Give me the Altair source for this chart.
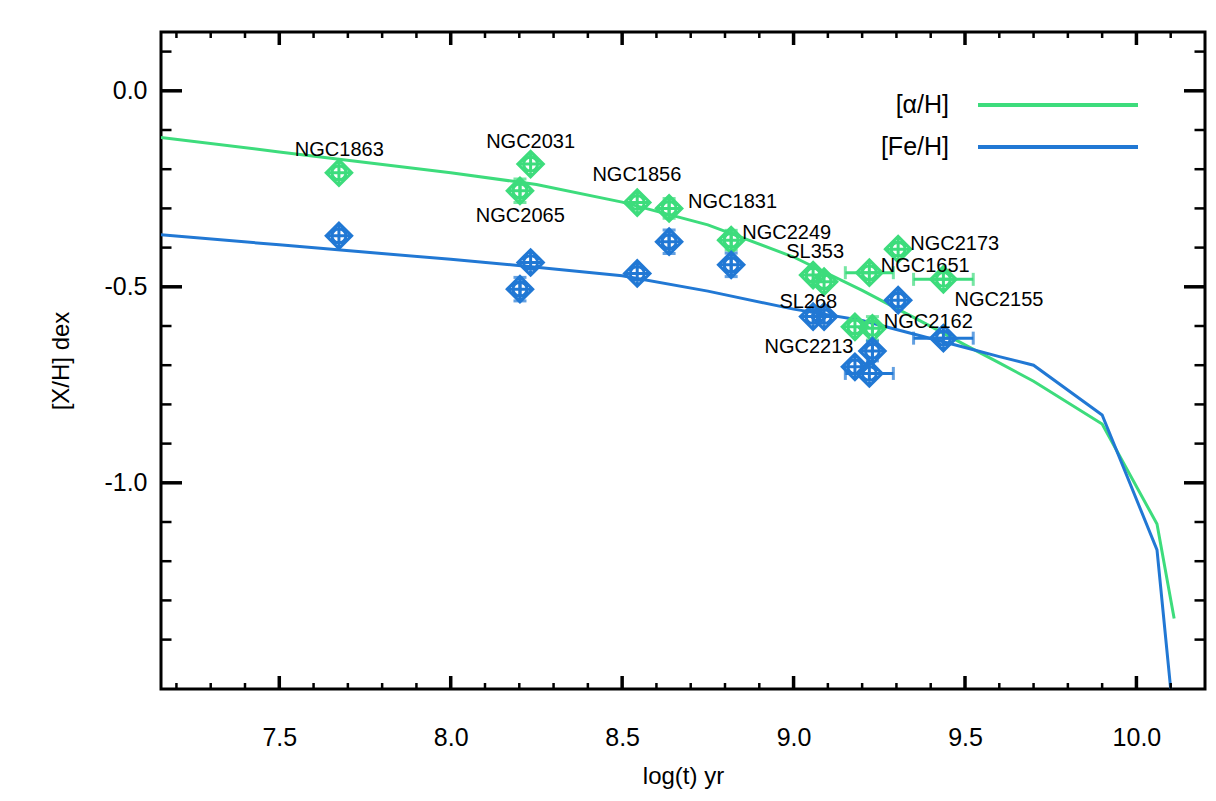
import altair as alt
import pandas as pd

# ---------------- data ----------------
clusters = ["NGC1863", "NGC2065", "NGC2031", "NGC1856", "NGC1831", "NGC2249",
            "SL353", "SL268", "NGC1651", "NGC2173", "NGC2155", "NGC2162", "NGC2213"]
log_age = [7.674, 8.202, 8.233, 8.544, 8.637, 8.818,
           9.057, 9.089, 9.221, 9.305, 9.437, 9.230, 9.179]
alpha_h = [-0.209, -0.255, -0.187, -0.285, -0.300, -0.381,
           -0.470, -0.487, -0.464, -0.404, -0.481, -0.606, -0.602]
fe_h = [-0.370, -0.506, -0.438, -0.466, -0.385, -0.444,
        -0.576, -0.576, -0.721, -0.534, -0.631, -0.664, -0.704]
age_err = [0, 0, 0, 0, 0, 0, 0, 0, 0.07, 0, 0.087, 0, 0]
alpha_err = [0, 0.03, 0, 0, 0.025, 0.025, 0, 0, 0, 0, 0, 0.03, 0]
fe_err = [0, 0.03, 0, 0, 0.03, 0.03, 0, 0, 0, 0, 0, 0.025, 0]

# label anchors (data units)
label_x = [7.675, 8.203, 8.233, 8.543, 8.822, 8.980,
           9.063, 9.043, 9.384, 9.470, 9.599, 9.393, 9.045]
label_y = [-0.152, -0.320, -0.131, -0.216, -0.284, -0.364,
           -0.411, -0.539, -0.448, -0.390, -0.533, -0.590, -0.654]

# chemical evolution model tracks
model_x = [7.155, 7.5, 8.0, 8.25, 8.5, 8.75, 9.0, 9.2, 9.4, 9.5, 9.6, 9.7, 9.9, 10.06, 10.11]
model_alpha = [-0.119, -0.156, -0.209, -0.239, -0.284, -0.342, -0.424, -0.509,
               -0.601, -0.648, -0.694, -0.741, -0.850, -1.105, -1.346]
model_fe = [-0.367, -0.393, -0.430, -0.450, -0.472, -0.511, -0.557, -0.586,
            -0.632, -0.655, -0.678, -0.700, -0.827, -1.171, -1.615]

series_names = ["[α/H]", "[Fe/H]"]
x_major = [7.5, 8.0, 8.5, 9.0, 9.5, 10.0]
y_major = [0.0, -0.5, -1.0]

# ---------------- styling ----------------
GREEN = "#3ddc7c"
BLUE = "#2178d4"
FONT = "Liberation Sans"
W, H = 1044, 657
XDOM = [7.155, 10.2]
YDOM = [-1.526, 0.15]

x_minor = [round(7.2 + 0.1 * i, 2) for i in range(30)]
x_minor = [v for v in x_minor if all(abs(v - m) > 1e-6 for m in x_major)]
y_minor = [round(0.1 - 0.1 * i, 2) for i in range(16)]
y_minor = [v for v in y_minor if all(abs(v - m) > 1e-6 for m in y_major)]

xs = alt.Scale(domain=XDOM, nice=False, zero=False)
ys = alt.Scale(domain=YDOM, nice=False, zero=False)

xaxis = alt.Axis(values=x_major, format=".1f", ticks=False, domain=False, grid=False,
                 labelFont=FONT, labelFontSize=25, labelColor="black", labelPadding=36,
                 title="log(t) yr", titleFont=FONT, titleFontSize=24, titleFontWeight="normal",
                 titleColor="black", titlePadding=14)
yaxis = alt.Axis(values=y_major, format=".1f", ticks=False, domain=False, grid=False,
                 labelFont=FONT, labelFontSize=25, labelColor="black", labelPadding=14,
                 title="[X/H] dex", titleFont=FONT, titleFontSize=24, titleFontWeight="normal",
                 titleColor="black", titlePadding=30,
                 labelExpr="replace(datum.label, '−', '-')")

pts = pd.DataFrame({
    "cluster": clusters * 2,
    "x": log_age * 2,
    "y": alpha_h + fe_h,
    "xerr": age_err * 2,
    "yerr": alpha_err + fe_err,
    "series": [series_names[0]] * len(clusters) + [series_names[1]] * len(clusters),
})
pts["xlo"] = pts["x"] - pts["xerr"]
pts["xhi"] = pts["x"] + pts["xerr"]
pts["ylo"] = pts["y"] - pts["yerr"]
pts["yhi"] = pts["y"] + pts["yerr"]

models = pd.DataFrame({
    "x": model_x * 2,
    "y": model_alpha + model_fe,
    "series": [series_names[0]] * len(model_x) + [series_names[1]] * len(model_x),
    "order": list(range(len(model_x))) * 2,
})

labels = pd.DataFrame({"cluster": clusters, "x": label_x, "y": label_y})

color = alt.Color("series:N", scale=alt.Scale(domain=series_names, range=[GREEN, BLUE]), legend=None)

base_pts = alt.Chart(pts)

lines = alt.Chart(models).mark_line(strokeWidth=3, clip=True).encode(
    x=alt.X("x:Q", scale=xs, axis=xaxis),
    y=alt.Y("y:Q", scale=ys, axis=yaxis),
    color=color, order="order:Q", detail="series:N")

marker_path = ("M-1,0L0,-1L1,0L0,1Z M-1,0L1,0 M0,-1L0,1 "
               "M-0.55,0A0.55,0.55,0,1,1,0.55,0A0.55,0.55,0,1,1,-0.55,0")
markers = base_pts.mark_point(shape=marker_path, size=650, strokeWidth=3, filled=False, opacity=1).encode(
    x=alt.X("x:Q", scale=xs), y=alt.Y("y:Q", scale=ys), color=color)

yerr_bar = base_pts.transform_filter("datum.yerr > 0").mark_rule(strokeWidth=3).encode(
    x=alt.X("x:Q", scale=xs), y=alt.Y("ylo:Q", scale=ys), y2="yhi:Q", color=color)
yerr_cap_lo = base_pts.transform_filter("datum.yerr > 0").mark_tick(orient="horizontal", size=13, thickness=3).encode(
    x=alt.X("x:Q", scale=xs), y=alt.Y("ylo:Q", scale=ys), color=color)
yerr_cap_hi = base_pts.transform_filter("datum.yerr > 0").mark_tick(orient="horizontal", size=13, thickness=3).encode(
    x=alt.X("x:Q", scale=xs), y=alt.Y("yhi:Q", scale=ys), color=color)
xerr_bar = base_pts.transform_filter("datum.xerr > 0").mark_rule(strokeWidth=3).encode(
    x=alt.X("xlo:Q", scale=xs), x2="xhi:Q", y=alt.Y("y:Q", scale=ys), color=color)
xerr_cap_lo = base_pts.transform_filter("datum.xerr > 0").mark_tick(orient="vertical", size=13, thickness=3).encode(
    x=alt.X("xlo:Q", scale=xs), y=alt.Y("y:Q", scale=ys), color=color)
xerr_cap_hi = base_pts.transform_filter("datum.xerr > 0").mark_tick(orient="vertical", size=13, thickness=3).encode(
    x=alt.X("xhi:Q", scale=xs), y=alt.Y("y:Q", scale=ys), color=color)

texts = alt.Chart(labels).mark_text(font=FONT, fontSize=20, color="black", align="center", baseline="middle").encode(
    x=alt.X("x:Q", scale=xs), y=alt.Y("y:Q", scale=ys), text="cluster:N")

# frame ticks (pointing inward on all four sides)
xmaj = pd.DataFrame({"v": x_major})
xmin = pd.DataFrame({"v": x_minor})
ymaj = pd.DataFrame({"v": y_major})
ymin = pd.DataFrame({"v": y_minor})

def xticks(df, length, width):
    b = alt.Chart(df).mark_rule(color="black", strokeWidth=width).encode(
        x=alt.X("v:Q", scale=xs), y=alt.value(H), y2=alt.value(H - length))
    t = alt.Chart(df).mark_rule(color="black", strokeWidth=width).encode(
        x=alt.X("v:Q", scale=xs), y=alt.value(0), y2=alt.value(length))
    return b + t

def yticks(df, length, width):
    l = alt.Chart(df).mark_rule(color="black", strokeWidth=width).encode(
        y=alt.Y("v:Q", scale=ys), x=alt.value(0), x2=alt.value(length))
    r = alt.Chart(df).mark_rule(color="black", strokeWidth=width).encode(
        y=alt.Y("v:Q", scale=ys), x=alt.value(W), x2=alt.value(W - length))
    return l + r

ticks = xticks(xmaj, 13, 3.5) + xticks(xmin, 6, 2.5) + yticks(ymaj, 21, 3.5) + yticks(ymin, 10.5, 2.5)

# legend (drawn as decoration in pixel space)
def legend_entry(name, col, ypix):
    d = pd.DataFrame({"series": [name]})
    t = alt.Chart(d).mark_text(font=FONT, fontSize=25, color="black", align="right", baseline="middle").encode(
        x=alt.value(788), y=alt.value(ypix), text="series:N")
    r = alt.Chart(d).mark_rule(strokeWidth=4, color=col).encode(
        x=alt.value(817), x2=alt.value(977), y=alt.value(ypix))
    return t + r

legend = legend_entry(series_names[0], GREEN, 73) + legend_entry(series_names[1], BLUE, 115)

chart = alt.layer(
    lines, ticks, yerr_bar, yerr_cap_lo, yerr_cap_hi, xerr_bar, xerr_cap_lo, xerr_cap_hi,
    markers, texts, legend
).properties(
    width=W, height=H,
    autosize=alt.AutoSizeParams(type="none"),
    padding={"left": 153, "top": 24, "right": 3, "bottom": 104},
    background="white",
).configure_view(stroke="black", strokeWidth=3)

chart.save("out.html", embed_options={"renderer": "svg", "actions": False})
